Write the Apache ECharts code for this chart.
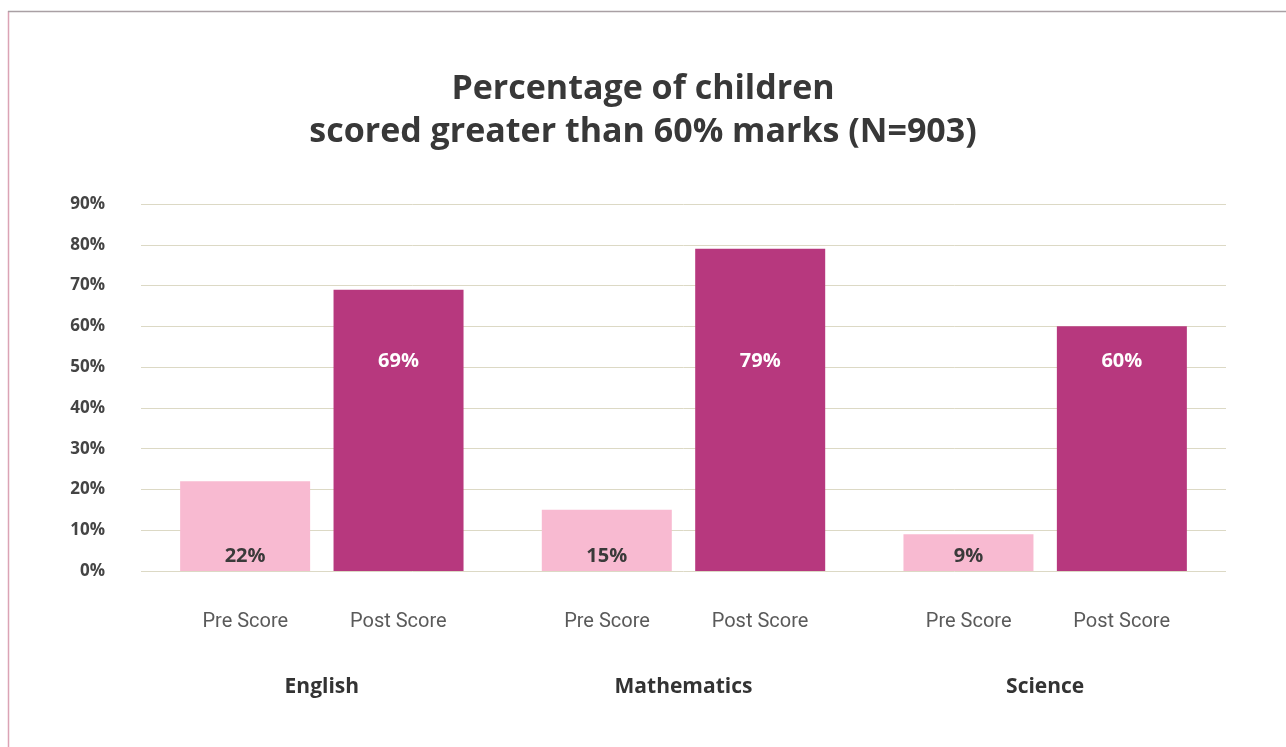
<!DOCTYPE html>
<html>
<head>
<meta charset="utf-8">
<script src="https://cdn.jsdelivr.net/npm/echarts@6/dist/echarts.min.js"></script>
<style>
html,body{margin:0;padding:0;background:#fff;}
#c{width:1286px;height:747px;}
</style>
</head>
<body>
<div id="c"></div>
<script>
const subjects = ['English', 'Mathematics', 'Science'];
const preScore = [22, 15, 9];
const postScore = [69, 79, 60];
const seriesNames = ['Pre Score', 'Post Score'];
const yTicks = [0, 10, 20, 30, 40, 50, 60, 70, 80, 90];

const chart = echarts.init(document.getElementById('c'));
chart.setOption({
  backgroundColor: '#ffffff',
  animation: false,
  title: {
    text: 'Percentage of children\nscored greater than 60% marks (N=903)',
    left: 'center',
    top: 63,
    textStyle: {
      fontFamily: 'Open Sans',
      fontWeight: 'bold',
      fontSize: 34,
      lineHeight: 43,
      color: '#383838'
    }
  },
  graphic: [
    { type: 'line', shape: { x1: 8.5, y1: 11, x2: 8.5, y2: 747 }, style: { stroke: '#dba3b5', lineWidth: 1.5 } },
    { type: 'line', shape: { x1: 8, y1: 11.5, x2: 1286, y2: 11.5 }, style: { stroke: '#a9a0a4', lineWidth: 1.5 } }
  ],
  grid: { left: 141, right: 60, top: 204, bottom: 176, containLabel: false },
  xAxis: {
    type: 'category',
    data: subjects,
    axisLine: { show: false },
    axisTick: { show: false },
    axisLabel: {
      margin: 40,
      interval: 0,
      formatter: function (v) {
        return '{s|' + seriesNames[0] + '}{s|' + seriesNames[1] + '}\n{b|' + v + '}';
      },
      rich: {
        s: { width: 153, align: 'center', fontFamily: 'Roboto', fontSize: 20, color: '#5a5a5a', lineHeight: 22 },
        b: { fontFamily: 'Open Sans', fontWeight: 'bold', fontSize: 21, color: '#333333', lineHeight: 22, padding: [86, 0, 0, 0] }
      }
    }
  },
  yAxis: {
    type: 'value',
    min: yTicks[0],
    max: yTicks[yTicks.length - 1],
    interval: 10,
    axisLine: { show: false },
    axisTick: { show: false },
    splitLine: { lineStyle: { color: '#dcd9c5', width: 1 } },
    axisLabel: {
      margin: 36,
      formatter: '{value}%',
      fontFamily: 'Open Sans',
      fontWeight: 'bold',
      fontSize: 17,
      color: '#444444'
    }
  },
  series: [
    {
      name: seriesNames[0],
      type: 'bar',
      data: preScore,
      barWidth: 130,
      barGap: '18%',
      itemStyle: { color: '#f8bad1' },
      label: {
        show: true,
        position: 'insideBottom',
        distance: 5,
        formatter: '{c}%',
        fontFamily: 'Open Sans',
        fontWeight: 'bold',
        fontSize: 20,
        color: '#3a3a3a'
      }
    },
    {
      name: seriesNames[1],
      type: 'bar',
      data: postScore,
      barWidth: 130,
      barGap: '18%',
      itemStyle: { color: '#b7387e' },
      label: {
        show: true,
        position: 'insideBottom',
        distance: 200,
        formatter: '{c}%',
        fontFamily: 'Open Sans',
        fontWeight: 'bold',
        fontSize: 20,
        color: '#ffffff'
      }
    }
  ]
});
</script>
</body>
</html>
